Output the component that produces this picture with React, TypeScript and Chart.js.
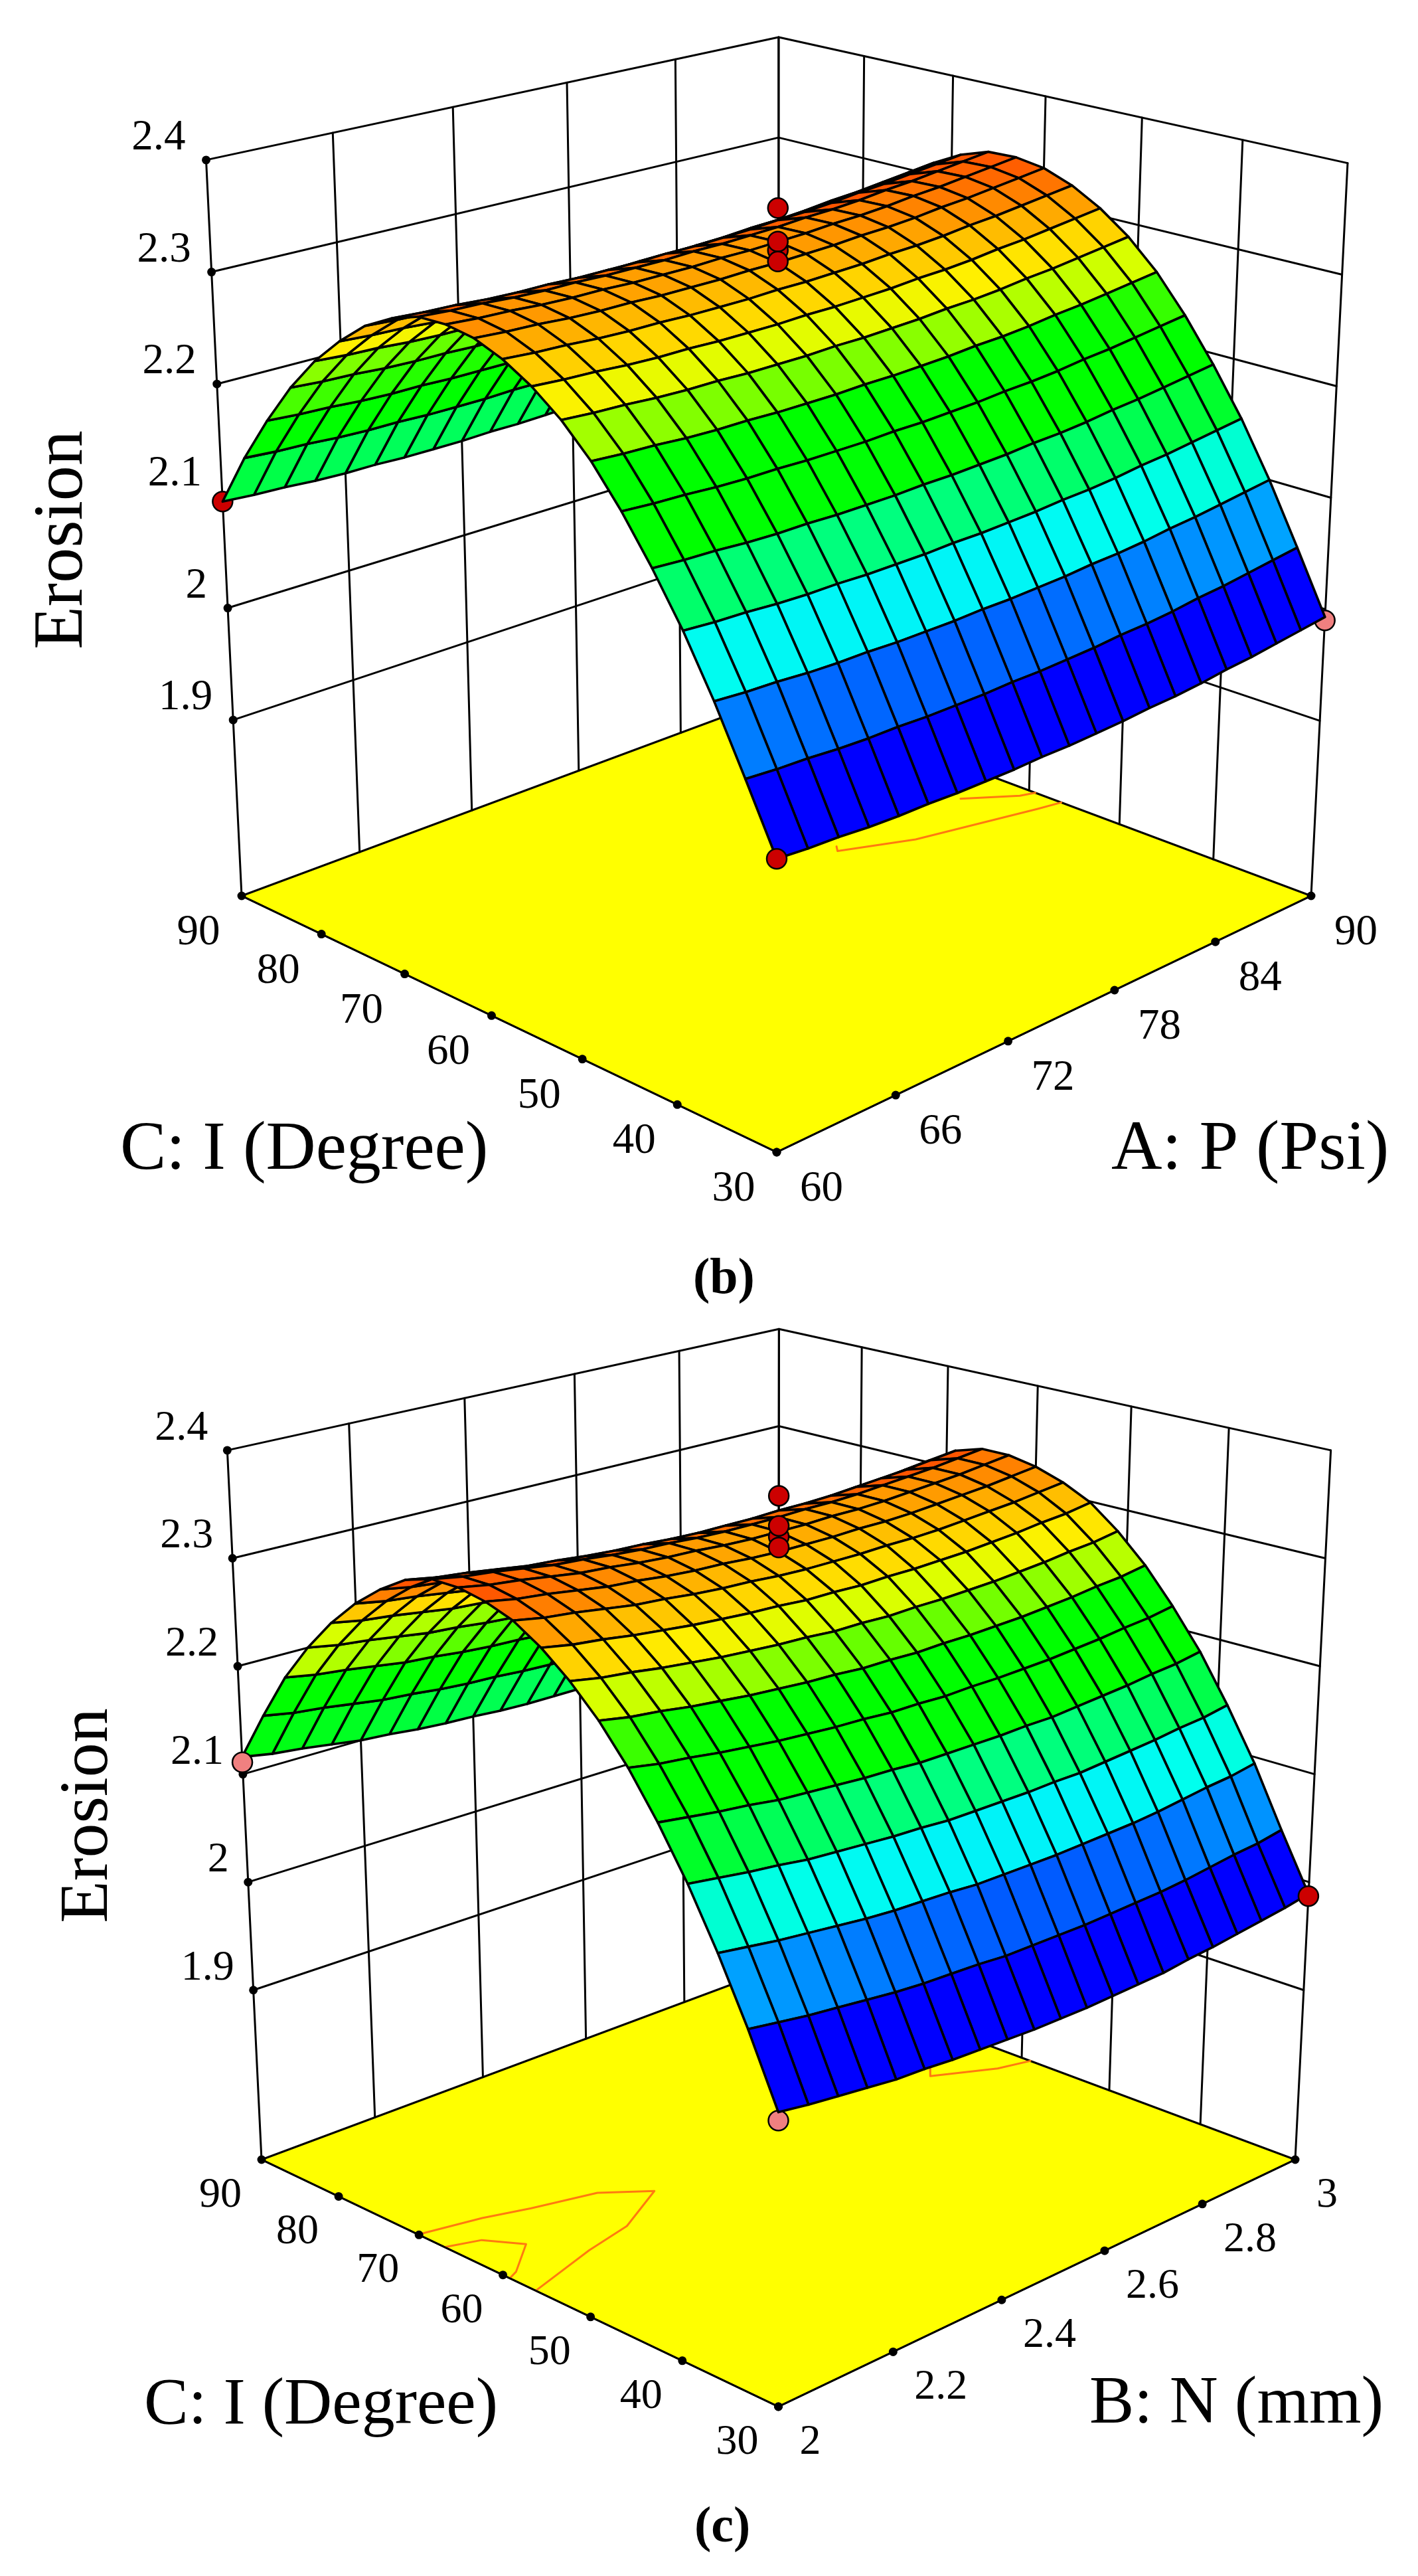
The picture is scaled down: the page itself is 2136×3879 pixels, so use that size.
import React, { useEffect, useRef } from "react";
import { Chart, registerables } from "chart.js";

Chart.register(...registerables);

const Z_TICKS = [1.9, 2, 2.1, 2.2, 2.3, 2.4];
const I_TICKS = [30, 40, 50, 60, 70, 80, 90];
const P_TICKS = [60, 66, 72, 78, 84, 90];
const N_TICKS = [2, 2.2, 2.4, 2.6, 2.8, 3];

// Erosion surface, rows run along I (30 to 90), columns along the other factor.
const EROSION_B = [
  [1.978,1.976,1.975,1.973,1.972,1.972,1.971,1.971,1.971,1.972,1.972,1.973,1.974,1.976,1.977,1.979,1.982,1.984,1.987,1.990,1.993],
  [2.032,2.030,2.029,2.027,2.026,2.026,2.025,2.025,2.025,2.026,2.026,2.027,2.028,2.030,2.031,2.033,2.036,2.038,2.041,2.044,2.047],
  [2.085,2.083,2.082,2.080,2.079,2.079,2.078,2.078,2.078,2.079,2.079,2.080,2.081,2.083,2.084,2.086,2.089,2.091,2.094,2.097,2.100],
  [2.133,2.131,2.130,2.128,2.127,2.127,2.126,2.126,2.126,2.127,2.127,2.128,2.129,2.131,2.132,2.134,2.137,2.139,2.142,2.145,2.148],
  [2.175,2.173,2.172,2.170,2.169,2.169,2.168,2.168,2.168,2.169,2.169,2.170,2.171,2.173,2.174,2.176,2.179,2.181,2.184,2.187,2.190],
  [2.213,2.211,2.210,2.208,2.207,2.207,2.206,2.206,2.206,2.207,2.207,2.208,2.209,2.211,2.212,2.214,2.217,2.219,2.222,2.225,2.228],
  [2.246,2.244,2.243,2.241,2.240,2.240,2.239,2.239,2.239,2.240,2.240,2.241,2.242,2.244,2.245,2.247,2.250,2.252,2.255,2.258,2.261],
  [2.272,2.270,2.269,2.267,2.266,2.266,2.265,2.265,2.265,2.266,2.266,2.267,2.268,2.270,2.271,2.273,2.276,2.278,2.281,2.284,2.287],
  [2.292,2.290,2.289,2.287,2.286,2.286,2.285,2.285,2.285,2.286,2.286,2.287,2.288,2.290,2.291,2.293,2.296,2.298,2.301,2.304,2.307],
  [2.307,2.305,2.304,2.302,2.301,2.301,2.300,2.300,2.300,2.301,2.301,2.302,2.303,2.305,2.306,2.308,2.311,2.313,2.316,2.319,2.322],
  [2.317,2.315,2.314,2.312,2.311,2.311,2.310,2.310,2.310,2.311,2.311,2.312,2.313,2.315,2.316,2.318,2.321,2.323,2.326,2.329,2.332],
  [2.321,2.319,2.318,2.316,2.315,2.315,2.314,2.314,2.314,2.315,2.315,2.316,2.317,2.319,2.320,2.322,2.325,2.327,2.330,2.333,2.336],
  [2.320,2.318,2.317,2.315,2.314,2.314,2.313,2.313,2.313,2.314,2.314,2.315,2.316,2.318,2.319,2.321,2.324,2.326,2.329,2.332,2.335],
  [2.311,2.309,2.308,2.306,2.305,2.305,2.304,2.304,2.304,2.305,2.305,2.306,2.307,2.309,2.310,2.312,2.315,2.317,2.320,2.323,2.326],
  [2.297,2.295,2.294,2.292,2.291,2.291,2.290,2.290,2.290,2.291,2.291,2.292,2.293,2.295,2.296,2.298,2.301,2.303,2.306,2.309,2.312],
  [2.276,2.274,2.273,2.271,2.270,2.270,2.269,2.269,2.269,2.270,2.270,2.271,2.272,2.274,2.275,2.277,2.280,2.282,2.285,2.288,2.291],
  [2.251,2.249,2.248,2.246,2.245,2.245,2.244,2.244,2.244,2.245,2.245,2.246,2.247,2.249,2.250,2.252,2.255,2.257,2.260,2.263,2.266],
  [2.220,2.218,2.217,2.215,2.214,2.214,2.213,2.213,2.213,2.214,2.214,2.215,2.216,2.218,2.219,2.221,2.224,2.226,2.229,2.232,2.235],
  [2.183,2.181,2.180,2.178,2.177,2.177,2.176,2.176,2.176,2.177,2.177,2.178,2.179,2.181,2.182,2.184,2.187,2.189,2.192,2.195,2.198],
  [2.142,2.140,2.139,2.137,2.136,2.136,2.135,2.135,2.135,2.136,2.136,2.137,2.138,2.140,2.141,2.143,2.146,2.148,2.151,2.154,2.157],
  [2.095,2.093,2.092,2.090,2.089,2.089,2.088,2.088,2.088,2.089,2.089,2.090,2.091,2.093,2.094,2.096,2.099,2.101,2.104,2.107,2.110],
];

const EROSION_C = [
  [1.987,1.983,1.980,1.977,1.974,1.973,1.971,1.970,1.969,1.968,1.968,1.968,1.969,1.970,1.971,1.974,1.976,1.979,1.982,1.985,1.989],
  [2.046,2.042,2.038,2.035,2.032,2.029,2.027,2.026,2.025,2.023,2.023,2.023,2.023,2.024,2.025,2.026,2.028,2.031,2.034,2.036,2.040],
  [2.100,2.096,2.092,2.089,2.086,2.083,2.081,2.080,2.079,2.077,2.077,2.077,2.077,2.078,2.079,2.080,2.082,2.085,2.088,2.090,2.094],
  [2.149,2.145,2.141,2.138,2.134,2.132,2.130,2.128,2.127,2.125,2.125,2.125,2.125,2.126,2.126,2.128,2.130,2.132,2.135,2.137,2.141],
  [2.192,2.188,2.184,2.181,2.177,2.175,2.173,2.171,2.170,2.168,2.168,2.168,2.168,2.169,2.169,2.171,2.173,2.175,2.178,2.180,2.184],
  [2.230,2.225,2.222,2.218,2.215,2.212,2.210,2.208,2.207,2.205,2.205,2.204,2.205,2.205,2.206,2.207,2.209,2.211,2.214,2.216,2.220],
  [2.262,2.257,2.254,2.250,2.247,2.244,2.242,2.240,2.239,2.237,2.237,2.236,2.237,2.237,2.238,2.239,2.241,2.243,2.246,2.248,2.252],
  [2.288,2.283,2.280,2.276,2.273,2.270,2.268,2.266,2.265,2.263,2.263,2.262,2.263,2.263,2.264,2.265,2.267,2.269,2.272,2.274,2.278],
  [2.309,2.304,2.301,2.297,2.294,2.291,2.289,2.287,2.286,2.284,2.284,2.283,2.284,2.284,2.285,2.286,2.288,2.290,2.293,2.295,2.299],
  [2.325,2.320,2.317,2.313,2.309,2.307,2.304,2.302,2.301,2.299,2.298,2.298,2.298,2.299,2.299,2.300,2.302,2.304,2.306,2.309,2.312],
  [2.334,2.329,2.326,2.322,2.318,2.316,2.313,2.311,2.310,2.308,2.307,2.307,2.307,2.308,2.308,2.309,2.311,2.313,2.315,2.318,2.321],
  [2.339,2.334,2.331,2.327,2.323,2.321,2.318,2.316,2.315,2.313,2.312,2.312,2.312,2.313,2.313,2.314,2.316,2.318,2.320,2.323,2.326],
  [2.339,2.334,2.331,2.327,2.323,2.321,2.318,2.316,2.315,2.313,2.312,2.312,2.312,2.313,2.313,2.314,2.316,2.318,2.320,2.323,2.326],
  [2.331,2.326,2.323,2.319,2.315,2.313,2.310,2.308,2.307,2.305,2.304,2.304,2.304,2.305,2.305,2.306,2.308,2.310,2.312,2.315,2.318],
  [2.315,2.310,2.307,2.303,2.299,2.297,2.294,2.292,2.291,2.289,2.288,2.288,2.288,2.289,2.289,2.290,2.292,2.294,2.296,2.299,2.302],
  [2.295,2.290,2.287,2.283,2.279,2.277,2.274,2.272,2.271,2.269,2.268,2.268,2.268,2.269,2.269,2.270,2.272,2.274,2.276,2.279,2.282],
  [2.270,2.265,2.262,2.258,2.254,2.252,2.249,2.247,2.246,2.244,2.243,2.243,2.243,2.244,2.244,2.245,2.247,2.249,2.251,2.254,2.257],
  [2.240,2.235,2.232,2.228,2.224,2.222,2.219,2.217,2.216,2.214,2.213,2.213,2.213,2.214,2.214,2.215,2.217,2.219,2.221,2.224,2.227],
  [2.205,2.200,2.197,2.193,2.189,2.187,2.184,2.182,2.181,2.179,2.178,2.178,2.178,2.179,2.179,2.180,2.182,2.184,2.186,2.189,2.192],
  [2.162,2.157,2.154,2.150,2.146,2.144,2.141,2.139,2.138,2.136,2.135,2.135,2.135,2.136,2.136,2.137,2.139,2.141,2.143,2.146,2.149],
  [2.116,2.111,2.108,2.104,2.100,2.098,2.095,2.093,2.092,2.090,2.089,2.089,2.089,2.090,2.090,2.091,2.093,2.095,2.097,2.100,2.103],
];

// Design points: [factor, I, erosion]
const POINTS_BEHIND_B = [[60, 90, 2.095, "#CC0000"], [90, 30, 1.99, "#F08080"]];
const POINTS_FRONT_B = [[60, 30, 1.978, "#CC0000"], [75, 60, 2.322, "#CC0000"], [75, 60, 2.36, "#CC0000"], [75, 60, 2.33, "#CC0000"], [75, 60, 2.312, "#CC0000"]];
const POINTS_BEHIND_C = [[2, 30, 1.98, "#F08080"]];
const POINTS_FRONT_C = [[2, 90, 2.111, "#F08080"], [3, 30, 1.987, "#CC0000"], [2.5, 60, 2.321, "#CC0000"], [2.5, 60, 2.359, "#CC0000"], [2.5, 60, 2.331, "#CC0000"], [2.5, 60, 2.311, "#CC0000"]];

// Floor contours: factor values and I values
const CONTOUR_B1_P = [80.1, 79.8, 82.9, 88.8, 90];
const CONTOUR_B1_I = [63.4, 62.7, 59.8, 56.9, 56.4];
const CONTOUR_B2_P = [87.3, 89.3, 90];
const CONTOUR_B2_I = [62.9, 59.8, 59.3];
const CONTOUR_C1_N = [2, 2.092, 2.158, 2.253, 2.311, 2.211, 2.127, 2];
const CONTOUR_C1_I = [70.1, 68.8, 67.4, 65.8, 62.8, 59.6, 58.5, 56.2];
const CONTOUR_C2_N = [2, 2.048, 2.081, 2.018, 2];
const CONTOUR_C2_I = [66.9, 65.8, 62.8, 59.7, 59.2];
const CONTOUR_C3_N = [2.88, 2.857, 2.946, 3];
const CONTOUR_C3_I = [64.2, 62.9, 59.9, 59];

// Colour ramp of the surface (erosion level to colour)
const RAMP_Z = [2.03, 2.06, 2.075, 2.095, 2.11, 2.125, 2.154, 2.17, 2.19, 2.235, 2.245, 2.259, 2.274, 2.282, 2.297, 2.305, 2.315, 2.325, 2.335];
const RAMP_RGB = [[0,0,255],[0,136,255],[0,170,255],[0,235,255],[0,255,238],[0,255,204],[0,255,102],[0,255,34],[0,255,0],[0,255,0],[68,255,0],[170,255,0],[221,255,0],[255,240,0],[255,208,0],[255,187,0],[255,153,0],[255,119,0],[255,85,0]];

const Z_FLOOR = 1.743;
const Z_TOP = 2.4;
const FONT = '"Liberation Serif", "Times New Roman", serif';

const PANELS = [
  {
    top: 0, height: 1980,
    F: [1170, 1735], R: [1975, 1349], L: [364, 1349], B: [1172, 1049], TL: [311.5, 245], TB: [1172, 52], TR: [2030, 246], TF: [1170, 500],
    surface: EROSION_B, uMin: 60, uMax: 90, uTicks: P_TICKS, uFmt: (t: number) => String(t),
    behind: POINTS_BEHIND_B, front: POINTS_FRONT_B,
    contours: [[CONTOUR_B1_P, CONTOUR_B1_I], [CONTOUR_B2_P, CONTOUR_B2_I]],
    tickFont: 65, zOff: [-31, -16], vOff: [-65, 73], uOff: [35, 73],
    texts: [
      { t: "C: I (Degree)", x: 181, y: 1760, size: 104 },
      { t: "A: P (Psi)", x: 1674, y: 1760, size: 106 },
      { t: "(b)", x: 1044, y: 1947, size: 76, bold: true },
    ],
    title: { x: 123, y: 813, size: 106 },
  },
  {
    top: 1980, height: 1899,
    F: [1172.5, 3624], R: [1951, 3252], L: [394, 3252], B: [1172.5, 2962], TL: [342, 2185], TB: [1174.6, 1998.5], TR: [2003.6, 2186], TF: [1172.5, 2430],
    surface: EROSION_C, uMin: 2, uMax: 3, uTicks: N_TICKS, uFmt: (t: number) => String(t),
    behind: POINTS_BEHIND_C, front: POINTS_FRONT_C,
    contours: [[CONTOUR_C1_N, CONTOUR_C1_I], [CONTOUR_C2_N, CONTOUR_C2_I], [CONTOUR_C3_N, CONTOUR_C3_I]],
    tickFont: 64, zOff: [-29, -16], vOff: [-62, 71], uOff: [32, 71],
    texts: [
      { t: "C: I (Degree)", x: 217, y: 3649, size: 100 },
      { t: "B: N (mm)", x: 1641, y: 3648, size: 101 },
      { t: "(c)", x: 1046, y: 3827, size: 76, bold: true },
    ],
    title: { x: 161, y: 2734, size: 104 },
  },
];

function makeCamera(p: any) {
  const [Fx, Fy] = p.F, [Rx, Ry] = p.R, [Lx, Ly] = p.L, [Bx, By] = p.B;
  const dx1 = Rx - Bx, dx2 = Lx - Bx, sx = Fx - Rx + Bx - Lx;
  const dy1 = Ry - By, dy2 = Ly - By, sy = Fy - Ry + By - Ly;
  const den = dx1 * dy2 - dx2 * dy1;
  const g = (sx * dy2 - dx2 * sy) / den;
  const h = (dx1 * sy - sx * dy1) / den;
  const a = Rx - Fx + g * Rx, b = Lx - Fx + h * Lx, c = Fx;
  const d = Ry - Fy + g * Ry, e = Ly - Fy + h * Ly, f = Fy;
  // Height column: least squares on the three top corners.
  const rows: number[][] = [];
  const tops: [number, number, number[]][] = [[0, 1, p.TL], [1, 1, p.TB], [1, 0, p.TR]];
  for (const [u, v, [X, Y]] of tops) {
    const D = g * u + h * v + 1;
    rows.push([1, 0, -X, X * D - (a * u + b * v + c)]);
    rows.push([0, 1, -Y, Y * D - (d * u + e * v + f)]);
  }
  const M = [0, 1, 2].map((r) => [0, 1, 2, 3].map((s) => rows.reduce((acc, q) => acc + q[r] * q[s], 0)));
  for (let i = 0; i < 3; i++) {
    let best = i;
    for (let r = i + 1; r < 3; r++) if (Math.abs(M[r][i]) > Math.abs(M[best][i])) best = r;
    [M[i], M[best]] = [M[best], M[i]];
    for (let r = 0; r < 3; r++) {
      if (r === i) continue;
      const m = M[r][i] / M[i][i];
      for (let s = i; s < 4; s++) M[r][s] -= m * M[i][s];
    }
  }
  const pw = M[0][3] / M[0][0], qw = M[1][3] / M[1][1], kw = M[2][3] / M[2][2];
  // Near top corner is hidden in the picture: pull the fitted one onto its estimate.
  const D00 = 1 + kw;
  const nearX = p.TF[0] - (c + pw) / D00, nearY = p.TF[1] - (f + qw) / D00;
  return (u: number, v: number, w: number) => {
    // The box's vertical axis is evenly spaced on screen: go straight from floor to top.
    const D0 = g * u + h * v + 1, D1 = D0 + kw;
    const x0 = (a * u + b * v + c) / D0, y0 = (d * u + e * v + f) / D0;
    const near = (1 - u) * (1 - v);
    const x1 = (a * u + b * v + c + pw) / D1 + nearX * near, y1 = (d * u + e * v + f + qw) / D1 + nearY * near;
    return { x: x0 + (x1 - x0) * w, y: y0 + (y1 - y0) * w };
  };
}

function rampColor(z: number) {
  if (z <= RAMP_Z[0]) return `rgb(${RAMP_RGB[0].join(",")})`;
  for (let i = 1; i < RAMP_Z.length; i++) {
    if (z <= RAMP_Z[i]) {
      const t = (z - RAMP_Z[i - 1]) / (RAMP_Z[i] - RAMP_Z[i - 1]);
      const c = RAMP_RGB[i].map((q, k) => Math.round(RAMP_RGB[i - 1][k] + (q - RAMP_RGB[i - 1][k]) * t));
      return `rgb(${c.join(",")})`;
    }
  }
  return `rgb(${RAMP_RGB[RAMP_RGB.length - 1].join(",")})`;
}

function buildDatasets(p: any) {
  const cam = makeCamera(p);
  const U = (val: number) => (val - p.uMin) / (p.uMax - p.uMin);
  const V = (val: number) => (val - 30) / 60;
  const W = (z: number) => (z - Z_FLOOR) / (Z_TOP - Z_FLOOR);
  const list: any[] = [];
  const line = (pts: any[], width = 3, color = "#000") =>
    list.push({ type: "scatter", data: pts, showLine: true, fill: false, borderColor: color, borderWidth: width, pointRadius: 0, tension: 0, clip: false, borderCapStyle: "round", borderJoinStyle: "round" });
  const poly = (pts: any[], bg: string, width = 3) =>
    list.push({ type: "scatter", data: [...pts, pts[0]], showLine: true, fill: "shape", backgroundColor: bg, borderColor: "#000", borderWidth: width, pointRadius: 0, tension: 0, clip: false, borderCapStyle: "round", borderJoinStyle: "round" });
  const dots = (pts: any[], bg: string, r: number, bw: number) =>
    list.push({ type: "scatter", data: pts, showLine: false, pointBackgroundColor: bg, pointBorderColor: "#000", pointBorderWidth: bw, pointRadius: r, clip: false });

  // floor
  poly([cam(0, 0, 0), cam(1, 0, 0), cam(1, 1, 0), cam(0, 1, 0)], "#FFFF00");
  // floor contours
  for (const [us, is] of p.contours) {
    line(us.map((q: number, k: number) => cam(U(q), V(is[k]), 0)), 3, "#FF7A10");
  }
  // floor edge repaint over contour ends
  line([cam(0, 1, 0), cam(0, 0, 0), cam(1, 0, 0)]);
  // walls
  for (const t of p.uTicks) line([cam(U(t), 1, 0), cam(U(t), 1, 1)]);
  for (const t of I_TICKS) line([cam(1, V(t), 0), cam(1, V(t), 1)]);
  for (const z of Z_TICKS) {
    line([cam(0, 1, W(z)), cam(1, 1, W(z)), cam(1, 0, W(z))]);
  }
  // tick dots
  dots(Z_TICKS.map((z) => cam(0, 1, W(z))), "#000", 6.5, 0);
  dots(I_TICKS.map((t) => cam(0, V(t), 0)), "#000", 6.5, 0);
  dots(p.uTicks.map((t: number) => cam(U(t), 0, 0)), "#000", 6.5, 0);
  // design points behind the surface
  for (const [a, i, z, col] of p.behind) dots([cam(U(a), V(i), W(z))], col, 15, 2.5);
  // surface, far cells first
  const S = p.surface;
  const nV = S.length - 1, nU = S[0].length - 1;
  for (let j = nU - 1; j >= 0; j--) {
    for (let i = nV - 1; i >= 0; i--) {
      const mean = (S[i][j] + S[i + 1][j] + S[i][j + 1] + S[i + 1][j + 1]) / 4;
      // cells on the far side of the ridge read one band warmer in the picture
      const shade = i >= 17 ? 0.045 : i >= 12 ? 0.02 : 0;
      poly([
        cam(j / nU, i / nV, W(S[i][j])),
        cam((j + 1) / nU, i / nV, W(S[i][j + 1])),
        cam((j + 1) / nU, (i + 1) / nV, W(S[i + 1][j + 1])),
        cam(j / nU, (i + 1) / nV, W(S[i + 1][j])),
      ], rampColor(mean + shade), 3.6);
    }
  }
  // design points in front
  for (const [a, i, z, col] of p.front) dots([cam(U(a), V(i), W(z))], col, 15, 2.5);
  list.forEach((d, k) => (d.order = -k));

  return { list, cam, U, V, W };
}

function Panel({ panel }: { panel: any }) {
  const ref = useRef<HTMLCanvasElement | null>(null);
  useEffect(() => {
    const { list, cam, U, V, W } = buildDatasets(panel);
    const textPlugin = {
      id: "panelText",
      afterDraw(chart: any) {
        const { ctx, scales } = chart;
        const px = (q: { x: number; y: number }) => ({ x: scales.x.getPixelForValue(q.x), y: scales.y.getPixelForValue(q.y) });
        ctx.save();
        ctx.fillStyle = "#000";
        ctx.textBaseline = "alphabetic";
        ctx.font = `${panel.tickFont}px ${FONT}`;
        ctx.textAlign = "right";
        for (const z of Z_TICKS) {
          const q = px(cam(0, 1, W(z)));
          ctx.fillText(String(z), q.x + panel.zOff[0], q.y + panel.zOff[1]);
        }
        ctx.textAlign = "center";
        for (const t of I_TICKS) {
          const q = px(cam(0, V(t), 0));
          ctx.fillText(String(t), q.x + panel.vOff[0], q.y + panel.vOff[1]);
        }
        ctx.textAlign = "left";
        for (const t of panel.uTicks) {
          const q = px(cam(U(t), 0, 0));
          ctx.fillText(panel.uFmt(t), q.x + panel.uOff[0], q.y + panel.uOff[1]);
        }
        for (const s of panel.texts) {
          ctx.font = `${s.bold ? "bold " : ""}${s.size}px ${FONT}`;
          const q = px({ x: s.x, y: s.y });
          ctx.fillText(s.t, q.x, q.y);
        }
        const q = px(panel.title);
        ctx.translate(q.x, q.y);
        ctx.rotate(-Math.PI / 2);
        ctx.textAlign = "center";
        ctx.font = `${panel.title.size}px ${FONT}`;
        ctx.fillText("Erosion", 0, 0);
        ctx.restore();
      },
    };
    const chart = new Chart(ref.current as HTMLCanvasElement, {
      type: "scatter",
      data: { datasets: list },
      options: {
        responsive: false,
        animation: false,
        events: [],
        layout: { padding: 0, autoPadding: false },
        plugins: { legend: { display: false }, tooltip: { enabled: false }, title: { display: false } },
        scales: {
          x: { type: "linear", display: false, min: 0, max: 2136 },
          y: { type: "linear", display: false, reverse: true, min: panel.top, max: panel.top + panel.height },
        },
      },
      plugins: [textPlugin],
    } as any);
    return () => chart.destroy();
  }, [panel]);
  return (
    <canvas
      ref={ref}
      width={2136}
      height={panel.height}
      style={{ position: "absolute", left: 0, top: panel.top, width: 2136, height: panel.height, display: "block" }}
    />
  );
}

export default function App() {
  useEffect(() => {
    document.body.style.margin = "0";
    document.body.style.background = "#fff";
  }, []);
  return (
    <div style={{ position: "absolute", left: 0, top: 0, width: 2136, height: 3879, background: "#fff", overflow: "hidden" }}>
      {PANELS.map((p) => (
        <Panel key={p.top} panel={p} />
      ))}
    </div>
  );
}
